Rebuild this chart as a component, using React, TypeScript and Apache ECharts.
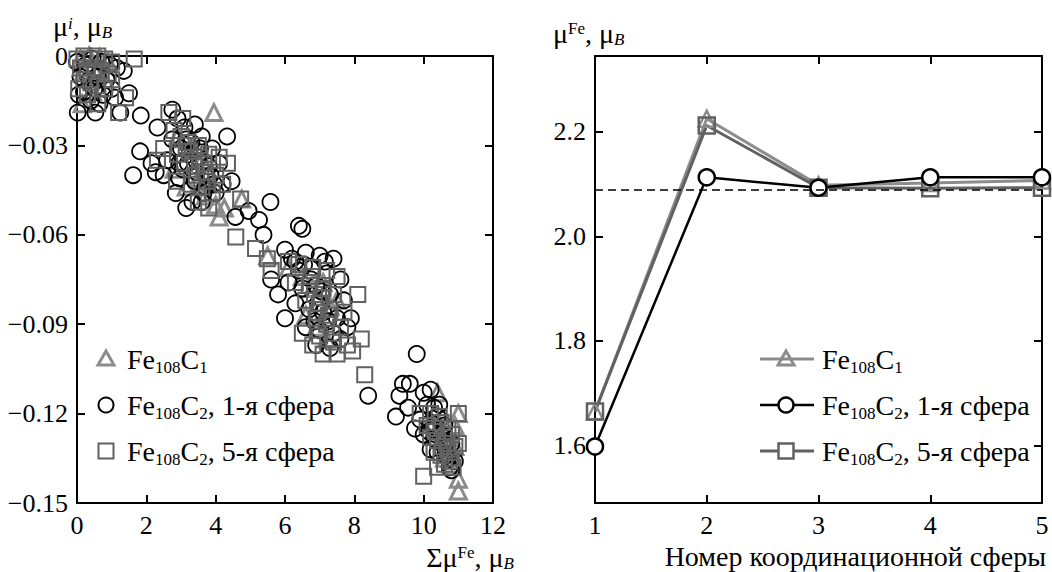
import React, { useEffect, useRef } from 'react';
import * as echarts from 'echarts';

const FONT = 'Liberation Serif';

// ---------- Left panel: moment on carbon-neighbour atoms vs sum of Fe moments ----------
const triC1: [number, number][] = [
  [0.1, -0.001], [0.35, 0], [0.65, -0.0005], [0.9, -0.002], [0.2, -0.005], [0.55, -0.006], [0.8, -0.008], [0.15, -0.016], [0.45, -0.012],
  [3.95, -0.019], [2.9, -0.027], [3.3, -0.031], [3.6, -0.035], [2.8, -0.038], [3.15, -0.044], [3.5, -0.041], [3.8, -0.043], [4.0, -0.05], [4.25, -0.051], [4.75, -0.048], [4.1, -0.054], [3.7, -0.047],
  [5.5, -0.067], [6.1, -0.071], [6.5, -0.074], [6.8, -0.078], [7.1, -0.076], [7.3, -0.084], [6.9, -0.091], [7.2, -0.095], [7.5, -0.082], [6.6, -0.087],
  [10.4, -0.113], [11.0, -0.12], [10.3, -0.12], [10.55, -0.125], [10.7, -0.128], [10.9, -0.131], [10.6, -0.135], [10.8, -0.137], [11.0, -0.142], [11.0, -0.146], [10.2, -0.123], [10.9, -0.124],
];

const circC2s1: [number, number][] = [
  [0, -0.002], [0.25, -0.003], [0.45, -0.001], [0.7, -0.002], [0.95, -0.003], [1.15, -0.004], [1.35, -0.005], [0.1, -0.007], [0.35, -0.008], [0.6, -0.007], [0.85, -0.008], [0.5, -0.011], [0.2, -0.012], [0.75, -0.013], [0.05, -0.013], [1.5, -0.0125], [0.02, -0.019], [0.53, -0.019], [1.25, -0.019], [1.84, -0.02], [0.4, -0.015], [1.0, -0.011], [0.65, -0.016], [1.1, -0.014],
  [2.75, -0.018], [2.32, -0.024], [1.82, -0.032], [1.62, -0.04], [2.27, -0.039], [2.15, -0.036], [4.33, -0.027], [4.46, -0.042], [4.57, -0.054], [3.33, -0.049], [3.15, -0.051], [2.9, -0.021], [3.1, -0.024], [3.4, -0.023], [2.75, -0.028], [3.0, -0.031], [3.3, -0.029], [3.6, -0.027], [3.9, -0.031], [2.6, -0.035], [3.2, -0.036], [3.5, -0.034], [3.8, -0.037], [4.1, -0.036], [2.95, -0.041], [3.4, -0.042], [3.7, -0.044], [4.0, -0.046], [3.6, -0.049], [4.2, -0.043], [2.5, -0.04], [2.85, -0.046], [3.85, -0.04], [3.05, -0.038],
  [3.25, -0.033], [3.55, -0.031], [3.45, -0.039], [3.75, -0.041], [3.15, -0.028], [2.95, -0.036], [3.65, -0.046], [3.95, -0.043],
  [5.58, -0.049], [5.25, -0.055], [5.38, -0.06], [4.95, -0.052],
  [6.4, -0.057], [6.5, -0.058], [6.0, -0.065], [5.8, -0.08], [6.2, -0.068], [6.6, -0.066], [7.0, -0.067], [7.4, -0.068], [6.4, -0.072], [6.8, -0.071], [7.2, -0.073], [7.6, -0.075], [6.1, -0.076], [6.5, -0.078], [6.9, -0.077], [7.3, -0.08], [7.7, -0.082], [6.3, -0.083], [6.7, -0.085], [7.1, -0.086], [7.5, -0.088], [7.9, -0.088], [6.6, -0.091], [7.0, -0.092], [7.4, -0.093], [7.8, -0.091], [6.9, -0.097], [7.3, -0.098], [8.4, -0.114], [6.0, -0.088], [7.6, -0.095], [5.6, -0.075], [6.3, -0.069],
  [6.75, -0.075], [7.05, -0.079], [6.95, -0.083], [7.25, -0.089], [6.85, -0.089], [7.15, -0.069], [6.55, -0.07],
  [9.8, -0.1], [9.4, -0.11], [9.6, -0.11], [9.3, -0.114], [9.2, -0.121], [9.55, -0.118], [10.0, -0.113], [10.2, -0.112], [10.1, -0.117], [10.3, -0.118], [9.9, -0.122], [10.2, -0.123], [10.4, -0.121], [10.0, -0.127], [10.3, -0.128], [10.5, -0.127], [10.2, -0.132], [10.4, -0.133], [10.6, -0.131], [10.8, -0.13], [10.7, -0.135], [10.9, -0.136], [10.8, -0.139], [9.75, -0.125], [10.6, -0.124],
  [10.35, -0.125], [10.55, -0.129], [10.45, -0.117], [10.65, -0.134], [10.15, -0.126], [10.75, -0.138],
];

const sqC2s5: [number, number][] = [
  [0, -0.001], [0.2, 0], [0.4, -0.001], [0.6, 0], [0.8, -0.001], [1.0, -0.002], [1.65, -0.001], [0.1, -0.004], [0.3, -0.005], [0.5, -0.004], [0.7, -0.005], [0.9, -0.006], [0.2, -0.008], [0.4, -0.009], [0.6, -0.01], [0.8, -0.011], [1.4, -0.014], [1.2, -0.019], [0.3, -0.013], [0.6, -0.016], [1.0, -0.008], [0.05, -0.011],
  [2.65, -0.019], [2.32, -0.035], [2.87, -0.042], [2.8, -0.025], [3.0, -0.027], [3.2, -0.029], [3.5, -0.03], [3.8, -0.033], [4.1, -0.034], [2.9, -0.033], [3.1, -0.036], [3.4, -0.037], [3.7, -0.039], [4.0, -0.04], [4.34, -0.036], [3.3, -0.043], [3.6, -0.044], [3.9, -0.046], [4.2, -0.043], [4.72, -0.048], [3.5, -0.049], [3.8, -0.051], [4.58, -0.0607], [5.15, -0.0646], [5.49, -0.068], [2.5, -0.031], [3.05, -0.021],
  [3.25, -0.032], [3.55, -0.034], [3.45, -0.04], [3.75, -0.042], [3.15, -0.03], [3.65, -0.036],
  [5.6, -0.072], [6.1, -0.069], [6.4, -0.07], [6.8, -0.071], [7.2, -0.072], [7.5, -0.074], [6.3, -0.076], [6.7, -0.077], [7.1, -0.078], [7.4, -0.08], [8.1, -0.08], [6.6, -0.082], [7.0, -0.083], [7.3, -0.085], [7.7, -0.086], [6.9, -0.088], [7.2, -0.09], [7.6, -0.091], [8.2, -0.095], [7.0, -0.094], [7.4, -0.096], [7.8, -0.097], [7.1, -0.1], [7.5, -0.1], [8.3, -0.107], [6.5, -0.093], [6.8, -0.097], [7.95, -0.099],
  [6.75, -0.074], [7.05, -0.081], [6.95, -0.086], [7.25, -0.087], [7.35, -0.093], [6.85, -0.08],
  [9.9, -0.12], [10.2, -0.12], [10.1, -0.124], [10.3, -0.125], [10.5, -0.123], [10.2, -0.128], [10.4, -0.129], [10.6, -0.128], [10.8, -0.127], [10.3, -0.133], [10.5, -0.134], [10.7, -0.132], [10.9, -0.131], [10.6, -0.137], [10.8, -0.135], [11.0, -0.13], [10.0, -0.141], [10.4, -0.138], [11.0, -0.12], [10.7, -0.125],
  [10.35, -0.126], [10.55, -0.131], [10.45, -0.121], [10.65, -0.13], [10.75, -0.136], [10.85, -0.138],
];

// ---------- Right panel: mean Fe moment vs coordination sphere number ----------
const spheres = [1, 2, 3, 4, 5];
const muFeC1 = [1.665, 2.225, 2.098, 2.102, 2.107];
const muFeC2s1 = [1.598, 2.113, 2.093, 2.113, 2.113];
const muFeC2s5 = [1.665, 2.212, 2.093, 2.092, 2.093];
const muFeBulk = 2.092;

// axis ranges
const leftX = { min: 0, max: 12, interval: 2 };
const leftY = { min: -0.15, max: 0, interval: 0.03 };
const rightX = { min: 1, max: 5, interval: 1 };
const rightY = { min: 1.49, max: 2.345 };

const C_TRI = '#8c8c8c';
const C_SQ = '#616161';
const C_CIRC = '#000000';

const legendNames = [
  '{m|Fe}{s|108}{m|C}{s|1}',
  '{m|Fe}{s|108}{m|C}{s|2}{m|, 1-я сфера}',
  '{m|Fe}{s|108}{m|C}{s|2}{m|, 5-я сфера}',
];

const MAIN = 28;
const SMALL = 17;
const rich = {
  m: { fontSize: MAIN, fontFamily: FONT, fill: '#000', lineHeight: 32, verticalAlign: 'middle' },
  s: { fontSize: SMALL, fontFamily: FONT, fill: '#000', lineHeight: SMALL, verticalAlign: 'middle', padding: [17, 0, 0, 0] },
  sub: { fontSize: SMALL, fontFamily: FONT, fontStyle: 'italic', fill: '#000', lineHeight: SMALL, verticalAlign: 'middle', padding: [13, 0, 0, 0] },
  supi: { fontSize: SMALL, fontFamily: FONT, fontStyle: 'italic', fill: '#000', lineHeight: SMALL, verticalAlign: 'middle', padding: [0, 0, 6, 0] },
  sup: { fontSize: SMALL, fontFamily: FONT, fill: '#000', lineHeight: SMALL, verticalAlign: 'middle', padding: [0, 0, 9, 0] },
};

function axis(gridIndex: number, position: string, range: any, labels: boolean, formatter?: any) {
  return {
    type: 'value',
    gridIndex,
    position,
    ...range,
    axisLine: { show: true, onZero: false, lineStyle: { color: '#000', width: 2 } },
    axisTick: { show: true, inside: true, length: 8, lineStyle: { color: '#000', width: 2 } },
    axisLabel: {
      show: labels,
      fontFamily: FONT,
      fontSize: 26,
      color: '#000',
      margin: 9,
      formatter,
      showMinLabel: range.interval ? undefined : false,
      showMaxLabel: range.interval ? undefined : false,
    },
    splitLine: { show: false },
  };
}

const fmtLeftY = (v: number) => (Math.abs(v) < 1e-9 ? '0' : '\u2212' + Math.abs(v).toFixed(2));
const fmtInt = (v: number) => String(Math.round(v));
const fmtRightY = (v: number) => v.toFixed(1);

function scatter(name: string, data: [number, number][], symbol: string, color: string, bw: number, size: number) {
  return {
    type: 'scatter',
    name,
    data,
    xAxisIndex: 0,
    yAxisIndex: 0,
    symbol,
    symbolSize: size,
    clip: false,
    itemStyle: { color: 'rgba(0,0,0,0)', borderColor: color, borderWidth: bw, opacity: 1 },
    emphasis: { disabled: true },
  };
}

function line(name: string, vals: number[], symbol: string, color: string, lw: number, fill: string, extra: any = {}) {
  return {
    type: 'line',
    name,
    data: spheres.map((s, i) => [s, vals[i]]),
    xAxisIndex: 2,
    yAxisIndex: 2,
    symbol,
    symbolSize: 16,
    showSymbol: true,
    clip: false,
    lineStyle: { color, width: lw },
    itemStyle: { color: fill, borderColor: color, borderWidth: 2.5 },
    emphasis: { disabled: true },
    ...extra,
  };
}

function buildGraphic() {
  const els: any[] = [];
  const rows = [359, 405, 451];
  // axis names
  els.push({ type: 'text', x: 53, y: 26, style: { text: '{m|μ}{supi|i}{m|, μ}{sub|B}', rich, align: 'left', verticalAlign: 'middle' } });
  els.push({ type: 'text', x: 553, y: 33, style: { text: '{m|μ}{sup|Fe}{m|, μ}{sub|B}', rich, align: 'left', verticalAlign: 'middle' } });
  els.push({ type: 'text', x: 514, y: 557, style: { text: '{m|Σμ}{sup|Fe}{m|, μ}{sub|B}', rich, align: 'right', verticalAlign: 'middle' } });
  els.push({ type: 'text', x: 1046, y: 556, style: { text: '{m|Номер координационной сферы}', rich, align: 'right', verticalAlign: 'middle' } });

  // left legend (markers only)
  const lx = 106;
  els.push({ type: 'polygon', shape: { points: [[lx, rows[0] - 8], [lx - 8, rows[0] + 6], [lx + 8, rows[0] + 6]] }, style: { fill: 'none', stroke: C_TRI, lineWidth: 3 } });
  els.push({ type: 'circle', shape: { cx: lx, cy: rows[1], r: 7.5 }, style: { fill: 'none', stroke: C_CIRC, lineWidth: 2 } });
  els.push({ type: 'rect', shape: { x: lx - 7.5, y: rows[2] - 7.5, width: 15, height: 15 }, style: { fill: 'none', stroke: C_SQ, lineWidth: 2 } });
  legendNames.forEach((t, i) => {
    els.push({ type: 'text', x: 127, y: rows[i], style: { text: t, rich, align: 'left', verticalAlign: 'middle' } });
  });

  // right legend (line + marker)
  const rx0 = 760, rx1 = 814, rc = 786;
  els.push({ type: 'line', shape: { x1: rx0, y1: rows[0], x2: rx1, y2: rows[0] }, style: { stroke: C_TRI, lineWidth: 3 } });
  els.push({ type: 'polygon', shape: { points: [[rc, rows[0] - 8], [rc - 8, rows[0] + 6], [rc + 8, rows[0] + 6]] }, style: { fill: 'none', stroke: C_TRI, lineWidth: 3 } });
  els.push({ type: 'line', shape: { x1: rx0, y1: rows[1], x2: rx1, y2: rows[1] }, style: { stroke: C_CIRC, lineWidth: 2.5 } });
  els.push({ type: 'circle', shape: { cx: rc, cy: rows[1], r: 7.5 }, style: { fill: '#fff', stroke: C_CIRC, lineWidth: 2.5 } });
  els.push({ type: 'line', shape: { x1: rx0, y1: rows[2], x2: rx1, y2: rows[2] }, style: { stroke: C_SQ, lineWidth: 3 } });
  els.push({ type: 'rect', shape: { x: rc - 7.5, y: rows[2] - 7.5, width: 15, height: 15 }, style: { fill: '#fff', stroke: C_SQ, lineWidth: 2.5 } });
  legendNames.forEach((t, i) => {
    els.push({ type: 'text', x: 822, y: rows[i], style: { text: t, rich, align: 'left', verticalAlign: 'middle' } });
  });
  return els.map((e) => ({ silent: true, z: 100, ...e }));
}

export default function App() {
  const ref = useRef<HTMLDivElement>(null);
  useEffect(() => {
    if (!ref.current) return;
    const chart = echarts.init(ref.current, undefined, { renderer: 'svg' });
    const option: any = {
      animation: false,
      backgroundColor: '#fff',
      textStyle: { fontFamily: FONT },
      grid: [
        { left: 77, top: 56, width: 416, height: 447 },
        { left: 595, top: 56, width: 447, height: 447 },
      ],
      xAxis: [
        axis(0, 'bottom', leftX, true, fmtInt),
        axis(0, 'top', leftX, false),
        axis(1, 'bottom', rightX, true, fmtInt),
        axis(1, 'top', rightX, false),
      ],
      yAxis: [
        axis(0, 'left', leftY, true, fmtLeftY),
        axis(0, 'right', leftY, false),
        axis(1, 'left', { ...rightY, splitNumber: 4 }, true, fmtRightY),
        axis(1, 'right', { ...rightY, splitNumber: 4 }, false),
      ],
      series: [
        scatter('Fe108C1', triC1, 'triangle', C_TRI, 3, 16),
        scatter('Fe108C2, 1-я сфера', circC2s1, 'circle', C_CIRC, 1.8, 16),
        scatter('Fe108C2, 5-я сфера', sqC2s5, 'rect', C_SQ, 2, 15),
        line('r-Fe108C1', muFeC1, 'triangle', C_TRI, 3, 'rgba(0,0,0,0)'),
        line('r-Fe108C2-5', muFeC2s5, 'rect', C_SQ, 3, 'rgba(0,0,0,0)'),
        line('r-Fe108C2-1', muFeC2s1, 'circle', C_CIRC, 2.5, '#fff', {
          markLine: {
            silent: true,
            symbol: ['none', 'none'],
            label: { show: false },
            lineStyle: { color: '#000', width: 1.5, type: [8, 5] },
            data: [{ yAxis: muFeBulk }],
          },
        }),
      ],
      graphic: buildGraphic(),
    };
    chart.setOption(option);
    return () => chart.dispose();
  }, []);
  return (
    <div
      ref={ref}
      style={{ position: 'fixed', left: 0, top: 0, width: 1052, height: 572, background: '#fff' }}
    />
  );
}
